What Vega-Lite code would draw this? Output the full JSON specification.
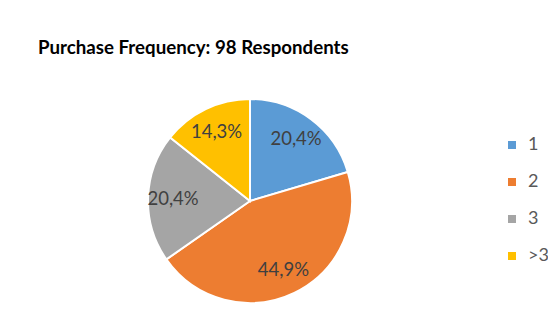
{
  "$schema": "https://vega.github.io/schema/vega-lite/v6.json",
  "width": 300,
  "height": 246,
  "autosize": "none",
  "padding": {"left": 100, "top": 78, "right": 148, "bottom": 0},
  "background": "white",
  "config": {"view": {"stroke": null}, "font": "Lato"},
  "title": {
    "text": "Purchase Frequency: 98 Respondents",
    "anchor": "start",
    "frame": "group",
    "dx": -62,
    "offset": 5,
    "baseline": "alphabetic",
    "font": "Lato",
    "fontSize": 18.7,
    "fontWeight": "bold",
    "color": "#000000"
  },
  "data": {
    "values": [
      {"freq": "1", "pct": 20.4, "label": "20,4%", "ord": 1},
      {"freq": "2", "pct": 44.9, "label": "44,9%", "ord": 2},
      {"freq": "3", "pct": 20.4, "label": "20,4%", "ord": 3},
      {"freq": ">3", "pct": 14.3, "label": "14,3%", "ord": 4}
    ]
  },
  "encoding": {
    "theta": {"field": "pct", "type": "quantitative", "stack": true},
    "order": {"field": "ord", "type": "quantitative"},
    "color": {
      "field": "freq",
      "type": "nominal",
      "scale": {"domain": ["1", "2", "3", ">3"], "range": ["#5B9BD5", "#ED7D31", "#A5A5A5", "#FFC000"]},
      "legend": {
        "title": null,
        "orient": "none",
        "legendX": 403,
        "legendY": 58,
        "symbolType": "square",
        "symbolSize": 64,
        "symbolStrokeWidth": 0,
        "labelFontSize": 18,
        "labelColor": "#595959",
        "labelFont": "Lato",
        "labelOffset": 7,
        "rowPadding": 19
      }
    }
  },
  "layer": [
    {"mark": {"type": "arc", "outerRadius": 102, "stroke": "white", "strokeWidth": 2}},
    {
      "mark": {"type": "text", "radius": 77, "fontSize": 18.5, "font": "Lato"},
      "encoding": {
        "text": {"field": "label", "type": "nominal"},
        "color": {"value": "#404040"}
      }
    }
  ]
}
